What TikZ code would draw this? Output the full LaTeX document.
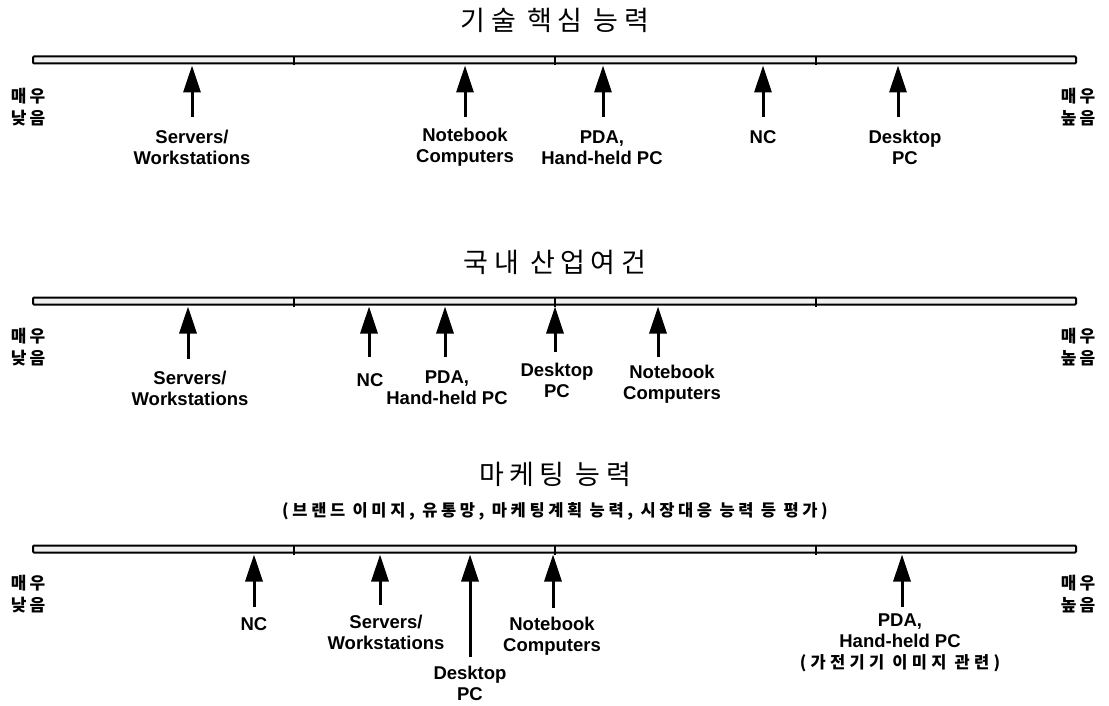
\documentclass[tikz,border=0pt]{standalone}
\usepackage{fontspec}
\setmainfont{Liberation Sans}
\newfontfamily\krt{Noto Sans CJK KR}[LetterSpace=20]
\newfontfamily\krs{Noto Sans CJK KR}[LetterSpace=22]
\newfontfamily\krl{Noto Sans CJK KR}[LetterSpace=18]
\newfontfamily\krp{Noto Sans CJK KR}[LetterSpace=26]
\usetikzlibrary{arrows.meta,calc}
\tikzset{
  barbox/.style={draw, line width=2pt, fill=gray!12, rounded corners=1pt,
    minimum width=1043pt, minimum height=7pt, inner sep=0pt},
  tickmark/.style={line width=2.6pt},
  arr/.style={line width=3pt, -{Triangle[length=27pt,width=17pt]}, shorten >=1pt},
  lab/.style={font=\fontsize{18.5}{21}\selectfont\bfseries, align=center, inner sep=0pt},
  side/.style={font=\krl\bfseries\fontsize{17}{22}\selectfont, align=center, inner sep=0pt},
  ttl/.style={font=\krt\fontsize{27}{32}\selectfont, inner sep=0pt},
  subttl/.style={font=\krs\bfseries\fontsize{16.5}{20}\selectfont, inner sep=0pt},
}
\begin{document}
\begin{tikzpicture}[x=1pt,y=-1pt]
\useasboundingbox (0,0) rectangle (1109,706);

% ---------- Row 1 ----------
\node[ttl] (t1) at (555,20) {기술 핵심 능력};
\node[barbox] (b1) at (554.5,60) {};
\foreach \tx in {294,555,816}{\draw[tickmark] (\tx,56.5) -- (\tx,65.5);}
\node[side] (l1) at (28,107.5) {매우\\낮음};
\node[side] (r1) at (1078,107.5) {매우\\높음};

\node[lab] (s1) at (192,147.5) {Servers/\\Workstations};
\node[lab] (n1) at (465,147.5) {Notebook\\Computers};
\node[lab] (p1) at (602,147.5) {PDA,\\Hand-held PC};
\node[lab] (c1) at (763,137) {NC};
\node[lab] (d1) at (905,147.5) {Desktop\\PC};
\coordinate (s1a) at (192,117);
\coordinate (n1a) at (465,117);
\coordinate (p1a) at (603,117);
\coordinate (c1a) at (763,117);
\coordinate (d1a) at (898,117);
\foreach \a in {s1a,n1a,p1a,c1a,d1a}{\draw[arr] (\a) -- (\a |- b1.south);}

% ---------- Row 2 ----------
\node[ttl] (t2) at (555,262) {국내 산업여건};
\node[barbox] (b2) at (554.5,301) {};
\foreach \tx in {294,555,816}{\draw[tickmark] (\tx,297.5) -- (\tx,306.5);}
\node[side] (l2) at (28,347) {매우\\낮음};
\node[side] (r2) at (1078,347) {매우\\높음};

\node[lab] (s2) at (190,388) {Servers/\\Workstations};
\node[lab] (c2) at (370,380) {NC};
\node[lab] (p2) at (447,388) {PDA,\\Hand-held PC};
\node[lab] (d2) at (557,380.5) {Desktop\\PC};
\node[lab] (n2) at (672,384.5) {Notebook\\Computers};
\coordinate (s2a) at (188,359);
\coordinate (c2a) at (369,357);
\coordinate (p2a) at (445,357);
\coordinate (d2a) at (555,352);
\coordinate (n2a) at (658,357);
\foreach \a in {s2a,c2a,p2a,d2a,n2a}{\draw[arr] (\a) -- (\a |- b2.south);}

% ---------- Row 3 ----------
\node[ttl] (t3) at (555,474) {마케팅 능력};
\node[subttl] (st3) at (555,511) {(브랜드 이미지, 유통망, 마케팅계획 능력, 시장대응 능력 등 평가)};
\node[barbox] (b3) at (554.5,549) {};
\foreach \tx in {294,555,816}{\draw[tickmark] (\tx,545.5) -- (\tx,554.5);}
\node[side] (l3) at (28,594) {매우\\낮음};
\node[side] (r3) at (1078,594) {매우\\높음};

\node[lab] (c3) at (254,624) {NC};
\node[lab] (s3) at (386,632) {Servers/\\Workstations};
\node[lab] (d3) at (470,683) {Desktop\\PC};
\node[lab] (n3) at (552,636) {Notebook\\Computers};
\node[lab] (p3) at (900,643) {PDA,\\Hand-held PC\\{\krp\fontsize{16.5}{21}\selectfont (가전기기 이미지 관련)}};
\coordinate (c3a) at (254,607);
\coordinate (s3a) at (380,605);
\coordinate (d3a) at (470,657);
\coordinate (n3a) at (553,608);
\coordinate (p3a) at (902,607);
\foreach \a in {c3a,s3a,d3a,n3a,p3a}{\draw[arr] (\a) -- (\a |- b3.south);}
\end{tikzpicture}
\end{document}
